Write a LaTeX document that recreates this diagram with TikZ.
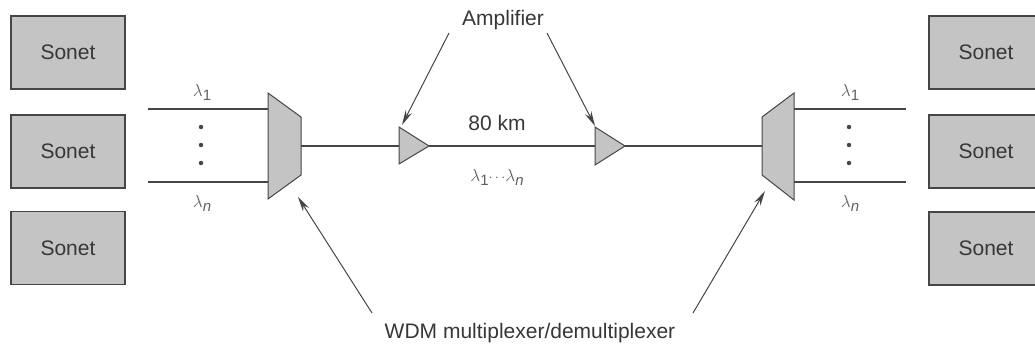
\documentclass[tikz,border=0pt]{standalone}
\usepackage{fontspec}
\setmainfont{Liberation Sans}
\usetikzlibrary{arrows.meta}
\definecolor{boxfill}{RGB}{196,196,196}
\definecolor{ink}{RGB}{70,70,70}
\definecolor{txt}{RGB}{55,55,55}
\newcommand{\lamsub}[1]{{\fontsize{18}{20}\selectfont$\lambda$}\raisebox{-4pt}{\fontsize{15}{17}\selectfont #1}}
\tikzset{
  sonet/.style={draw=ink, line width=1.2pt, fill=boxfill, minimum width=114pt, minimum height=73pt, inner sep=0pt, font=\fontsize{21}{25}\selectfont, text=txt},
  fiber/.style={draw=ink, line width=1.1pt},
  device/.style={draw=ink, line width=1pt, fill=boxfill},
  pointer/.style={draw=ink, line width=1pt, -{Stealth[length=15pt,width=7pt]}},
  lab/.style={font=\fontsize{21}{25}\selectfont, text=txt, inner sep=0pt},
  lam/.style={text=txt!80, inner sep=0pt},
  dotm/.style={circle, fill=ink, inner sep=0pt, minimum size=4.5pt}
}
\begin{document}
\begin{tikzpicture}[x=1pt,y=-1pt]
\useasboundingbox (0,0) rectangle (1035,345);
% Sonet boxes
\node[sonet] (sl1) at (68,52.5) {Sonet};
\node[sonet] (sl2) at (68,151.5) {Sonet};
\node[sonet] (sl3) at (68,248) {Sonet};
\node[sonet] (sr1) at (986,52.5) {Sonet};
\node[sonet] (sr2) at (986,151.5) {Sonet};
\node[sonet] (sr3) at (986,248.5) {Sonet};
% multiplexer (left)
\coordinate (m1a) at (268,93);
\coordinate (m1b) at (301,117);
\coordinate (m1c) at (301,175);
\coordinate (m1d) at (268,199);
\path[device] (m1a) -- (m1b) -- (m1c) -- (m1d) -- cycle;
\coordinate (m1in1) at (268,109);
\coordinate (m1inn) at (268,182);
\coordinate (m1out) at (301,146);
\coordinate (m1tip) at (298,197);
% demultiplexer (right)
\coordinate (m2a) at (762,117);
\coordinate (m2b) at (794,93);
\coordinate (m2c) at (794,200);
\coordinate (m2d) at (762,175);
\path[device] (m2a) -- (m2b) -- (m2c) -- (m2d) -- cycle;
\coordinate (m2in) at (762,146);
\coordinate (m2out1) at (794,109);
\coordinate (m2outn) at (794,182);
\coordinate (m2tip) at (765,191);
% amplifiers
\coordinate (a1l) at (399,146);
\coordinate (a1r) at (429,146);
\path[device] (399,127) -- (a1r) -- (399,164) -- cycle;
\coordinate (a1tip) at (402,125);
\coordinate (a2l) at (595,146);
\coordinate (a2r) at (625,146);
\path[device] (595,127) -- (a2r) -- (595,165) -- cycle;
\coordinate (a2tip) at (595,126);
% fibers
\coordinate (li1) at (148,109);
\coordinate (lin) at (148,182);
\coordinate (ro1) at (906,109);
\coordinate (ron) at (906,182);
\draw[fiber] (li1) -- (m1in1);
\draw[fiber] (lin) -- (m1inn);
\draw[fiber] (m1out) -- (a1l);
\draw[fiber] (a1r) -- (a2l);
\draw[fiber] (a2r) -- (m2in);
\draw[fiber] (m2out1) -- (ro1);
\draw[fiber] (m2outn) -- (ron);
% dots
\node[dotm] (dl1) at (201,127) {};
\node[dotm] (dl2) at (201,145) {};
\node[dotm] (dl3) at (201,163) {};
\node[dotm] (dr1) at (849,127) {};
\node[dotm] (dr2) at (849,145) {};
\node[dotm] (dr3) at (849,163) {};
% lambda labels
\node[lam] (ll1) at (202,92) {\lamsub{1}};
\node[lam] (lln) at (202,203) {\lamsub{\itshape n}};
\node[lam] (rl1) at (850,92) {\lamsub{1}};
\node[lam] (rln) at (850,203) {\lamsub{\itshape n}};
\node[lam] (lmid) at (497,177) {\lamsub{1}{\fontsize{15}{17}\selectfont$\cdots$}\lamsub{\itshape n}};
\node[lab] (km) at (497,123) {80 km};
% amplifier label
\node[lab] (amp) at (503,20) {Amplifier};
\coordinate (ampL) at (449,33);
\coordinate (ampR) at (547,33);
\draw[pointer] (ampL) -- (a1tip);
\draw[pointer] (ampR) -- (a2tip);
% WDM label
\node[lab] (wdm) at (530,333) {WDM multiplexer/demultiplexer};
\coordinate (wdmL) at (372,313);
\coordinate (wdmR) at (693,313);
\draw[pointer] (wdmL) -- (m1tip);
\draw[pointer] (wdmR) -- (m2tip);
\end{tikzpicture}
\end{document}
